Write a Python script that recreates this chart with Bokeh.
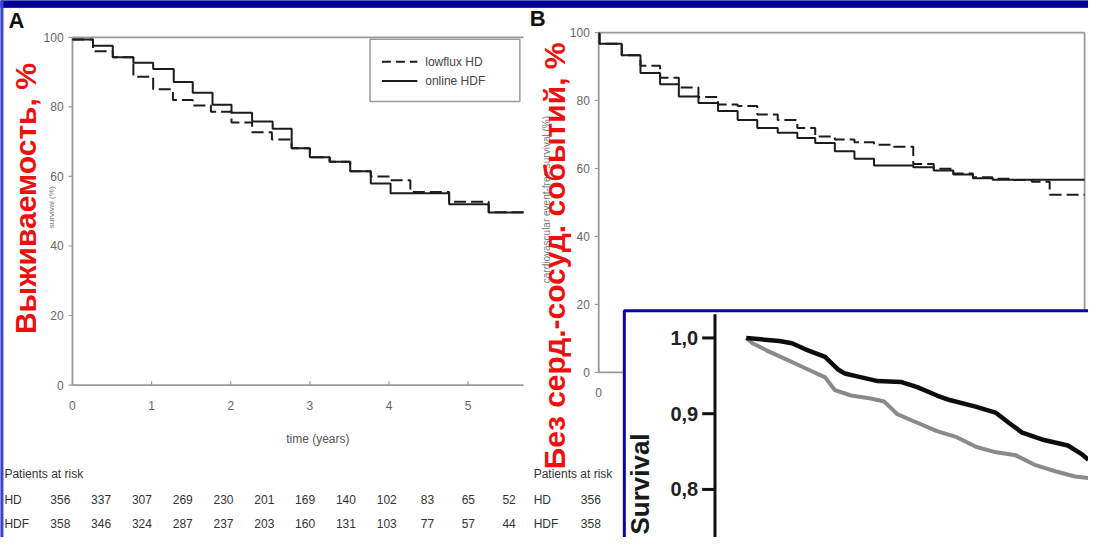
import numpy as np
from bokeh.plotting import figure
from bokeh.models import Range1d
from bokeh.core.properties import value
from bokeh.embed import file_html
from bokeh.resources import INLINE

# ---------------- data ----------------
# Panel A: survival (%) vs time (years)
a_hdf_t = [0, 0.26, 0.51, 0.77, 1.02, 1.28, 1.52, 1.77, 2.01, 2.27, 2.53, 2.77,
           3.0, 3.25, 3.51, 3.77, 4.02, 4.76, 5.26, 5.7]
a_hdf_s = [99.4, 97.6, 94.3, 92.7, 90.9, 87.2, 84.1, 80.6, 78.3, 75.8, 73.7, 68.1,
           65.5, 64.2, 61.5, 58.0, 55.2, 52.0, 49.6, 49.6]
a_hd_t = [0, 0.26, 0.51, 0.77, 1.02, 1.27, 1.52, 1.75, 2.01, 2.27, 2.52, 2.77,
          3.0, 3.25, 3.51, 3.77, 4.02, 4.27, 4.76, 5.26, 5.7]
a_hd_s = [99.4, 96.0, 94.3, 88.7, 85.1, 82.0, 80.4, 78.6, 75.5, 72.7, 70.6, 68.1,
          65.5, 64.2, 61.5, 60.0, 58.9, 55.5, 52.7, 49.7, 49.7]

# Panel B: cardiovascular event-free survival (%)
b_hdf_t = [0, 0.01, 0.27, 0.49, 0.72, 0.94, 1.17, 1.40, 1.63, 1.86, 2.10, 2.33,
           2.54, 2.77, 3.0, 3.23, 3.69, 3.93, 4.16, 4.39, 4.62, 5.7]
b_hdf_s = [99.7, 96.7, 93.3, 88.1, 84.8, 81.2, 79.3, 76.9, 74.3, 71.9, 70.5, 69.0,
           67.5, 65.1, 62.9, 60.9, 60.4, 59.4, 58.2, 57.1, 56.7, 56.7]
b_hd_t = [0, 0.01, 0.27, 0.49, 0.72, 0.94, 1.17, 1.40, 1.63, 1.86, 2.10, 2.33,
          2.54, 2.77, 3.0, 3.23, 3.46, 3.69, 3.93, 4.16, 4.39, 4.62, 4.85, 5.08, 5.29, 5.7]
b_hd_s = [99.7, 96.7, 93.3, 90.2, 86.7, 83.8, 81.0, 78.8, 78.4, 75.9, 74.3, 71.9,
          69.4, 68.5, 67.7, 67.0, 66.4, 61.3, 59.9, 58.5, 57.4, 57.0, 56.6, 56.1, 52.3, 52.3]

# Inset: survival (fraction)
i_black_t = [0, 0.42, 0.58, 0.75, 1.0, 1.17, 1.25, 1.42, 1.67, 1.96, 2.17, 2.42,
             2.58, 2.92, 3.17, 3.33, 3.5, 3.75, 4.08, 4.25, 4.34]
i_black_s = [1.0, 0.996, 0.993, 0.985, 0.975, 0.958, 0.953, 0.949, 0.943, 0.942, 0.935, 0.924,
             0.918, 0.909, 0.901, 0.888, 0.875, 0.866, 0.858, 0.847, 0.839]
i_gray_t = [0, 0.08, 0.25, 0.5, 0.75, 1.0, 1.125, 1.33, 1.58, 1.75, 1.92, 2.17,
            2.42, 2.67, 2.92, 3.17, 3.42, 3.67, 3.92, 4.17, 4.34]
i_gray_s = [1.0, 0.993, 0.984, 0.972, 0.960, 0.948, 0.931, 0.924, 0.920, 0.916, 0.899, 0.888,
            0.877, 0.869, 0.856, 0.849, 0.845, 0.832, 0.824, 0.817, 0.815]

pct_ticks = [0, 20, 40, 60, 80, 100]
year_ticks = [0, 1, 2, 3, 4, 5]
inset_ticks = [1.0, 0.9, 0.8]
inset_tick_labels = ["1,0", "0,9", "0,8"]
legend_labels = ["lowflux HD", "online HDF"]
risk_groups = ["HD", "HDF"]
risk_hd = [356, 337, 307, 269, 230, 201, 169, 140, 102, 83, 65, 52]
risk_hdf = [358, 346, 324, 287, 237, 203, 160, 131, 103, 77, 57, 44]
b_risk_hd = [356]
b_risk_hdf = [358]
T_MAX = 5.7

# ---------------- layout helpers (reference pixel space) ----------------
RW, RH = 1104, 553
W, H = 1088, 537


def xr(px0, v0, ppu):
    return Range1d(start=v0 - px0 / ppu, end=v0 + (RW - px0) / ppu)


def yr(py0, v0, ppu):
    return Range1d(start=v0 - (RH - py0) / ppu, end=v0 + py0 / ppu)


A_PX = (73.0, 80.3)      # x pixel of t=0, px per year
A_PY = (396.0, 3.58)     # y pixel of 0 %, px per %
B_PX = (607.0, 86.5)
B_PY = (383.0, 3.5)
I_PX = (756.7, 80.0)
I_PY = (347.5, 780.0)    # y pixel of 1.0, px per unit

p = figure(width=W, height=H, x_range=Range1d(0, RW), y_range=Range1d(RH, 0),
           output_backend="svg", toolbar_location=None, min_border=0,
           x_axis_location=None, y_axis_location=None,
           background_fill_color="white", border_fill_color="white")
p.grid.visible = False
p.outline_line_color = None
p.extra_x_ranges = {"A": xr(A_PX[0], 0, A_PX[1]), "B": xr(B_PX[0], 0, B_PX[1]),
                    "I": xr(I_PX[0], 0, I_PX[1])}
p.extra_y_ranges = {"A": yr(A_PY[0], 0, A_PY[1]), "B": yr(B_PY[0], 0, B_PY[1]),
                    "I": yr(I_PY[0], 1.0, I_PY[1])}

FONT = value("Liberation Sans")
AX = "#9a9a9a"
TICKC = "#666666"
CURVE = "#1c1c1c"

# frame decoration
p.quad(left=0, right=RW, top=0, bottom=7, color="#000099")
p.quad(left=0, right=2.5, top=0, bottom=RH, color="#3a44cc")


def km_panel(name, px, py, hd_t, hd_s, hdf_t, hdf_s, right_border):
    kw = dict(x_range_name=name, y_range_name=name)
    tx = 1.0 / px[1]
    ty = 1.0 / py[1]
    # frame lines
    p.segment(x0=[0, 0, 0], y0=[0, 0, 100], x1=[0, T_MAX, T_MAX], y1=[100, 0, 100],
              line_color=AX, line_width=1.8, **kw)
    if right_border:
        p.segment(x0=[T_MAX], y0=[0], x1=[T_MAX], y1=[100], line_color=AX, line_width=1.8, **kw)
    # y ticks
    p.segment(x0=[-4 * tx] * len(pct_ticks), y0=pct_ticks, x1=[0] * len(pct_ticks), y1=pct_ticks,
              line_color=AX, line_width=1.2, **kw)
    p.text(x=[-9 * tx] * len(pct_ticks), y=pct_ticks, text=[str(v) for v in pct_ticks],
           text_font=FONT, text_font_size="12px", text_color=TICKC,
           text_align="right", text_baseline="middle", **kw)
    # x ticks
    p.segment(x0=year_ticks, y0=[0] * 6, x1=year_ticks, y1=[4 * ty] * 6,
              line_color=AX, line_width=1.2, **kw)
    p.text(x=year_ticks, y=[-21 * ty] * 6, text=[str(v) for v in year_ticks],
           text_font=FONT, text_font_size="12px", text_color=TICKC,
           text_align="center", text_baseline="middle", **kw)
    # curves
    p.step(hd_t, hd_s, mode="after", line_color=CURVE, line_width=2, line_dash="12 5", **kw)
    p.step(hdf_t, hdf_s, mode="after", line_color=CURVE, line_width=2, **kw)


km_panel("A", A_PX, A_PY, a_hd_t, a_hd_s, a_hdf_t, a_hdf_s, False)
km_panel("B", B_PX, B_PY, b_hd_t, b_hd_s, b_hdf_t, b_hdf_s, True)

# legend of panel A
p.quad(left=375, right=527, top=40, bottom=104, fill_color="white",
       line_color="#9a9a9a", line_width=1.5)
p.segment(x0=[387], y0=[63], x1=[423], y1=[63], line_color=CURVE, line_width=2, line_dash="9 5")
p.segment(x0=[387], y0=[83], x1=[423], y1=[83], line_color=CURVE, line_width=2)
p.text(x=[431, 431], y=[63, 83], text=legend_labels, text_font=FONT, text_font_size="12px",
       text_color="#444444", text_align="left", text_baseline="middle")

# axis titles (small, grey)
p.text(x=[322], y=[452], text=["time (years)"], text_font=FONT, text_font_size="12px",
       text_color="#555555", text_align="center", text_baseline="middle")
p.text(x=[52], y=[213], text=["survival (%)"], text_font=FONT, text_font_size="8px",
       text_color="#777777", text_align="center", text_baseline="middle", angle=np.pi / 2)
p.text(x=[554], y=[205], text=["cardiovascular event-free survival (%)"], text_font=FONT,
       text_font_size="10px", text_color="#777777", text_align="center",
       text_baseline="middle", angle=np.pi / 2)

# panel letters
p.text(x=[8, 537], y=[21, 19], text=["A", "B"], text_font=FONT, text_font_size="22px",
       text_font_style="bold", text_color="#111111", text_align="left", text_baseline="middle")

# patients at risk tables
RISK_FONT = dict(text_font=FONT, text_font_size="12px", text_color="#333333", text_baseline="middle")
for lx, x0, dx, hd, hdf in [(4, 60.7, 41.4, risk_hd, risk_hdf), (541, 599.0, 42.0, b_risk_hd, b_risk_hdf)]:
    p.text(x=[lx], y=[488], text=["Patients at risk"], text_align="left", **RISK_FONT)
    p.text(x=[lx, lx], y=[514, 539], text=risk_groups, text_align="left", **RISK_FONT)
    xs = [x0 + i * dx for i in range(len(hd))]
    p.text(x=xs, y=[514] * len(hd), text=[str(v) for v in hd], text_align="center", **RISK_FONT)
    p.text(x=xs, y=[539] * len(hdf), text=[str(v) for v in hdf], text_align="center", **RISK_FONT)

# ---------------- inset ----------------
p.quad(left=633, right=1130, top=319.5, bottom=580, fill_color="white",
       line_color="#0a0a9a", line_width=3)
ik = dict(x_range_name="I", y_range_name="I")
ax_x = (725 - I_PX[0]) / I_PX[1]
tick_x0 = (712 - I_PX[0]) / I_PX[1]
lab_x = (708 - I_PX[0]) / I_PX[1]
p.segment(x0=[ax_x], y0=[1.0 + (I_PY[0] - 323) / I_PY[1]], x1=[ax_x], y1=[0.6],
          line_color="#111111", line_width=3, **ik)
p.segment(x0=[tick_x0] * 3, y0=inset_ticks, x1=[ax_x] * 3, y1=inset_ticks,
          line_color="#111111", line_width=3, **ik)
p.text(x=[lab_x] * 3, y=inset_ticks, text=inset_tick_labels, text_font=FONT,
       text_font_size="20px", text_font_style="bold", text_color="#222222",
       text_align="right", text_baseline="middle", **ik)
p.line(i_gray_t, i_gray_s, line_color="#8a8a8a", line_width=4, **ik)
p.line(i_black_t, i_black_s, line_color="#0d0d0d", line_width=4.5, **ik)
p.text(x=[649], y=[550], text=["Survival"], text_font=FONT, text_font_size="26px",
       text_font_style="bold", text_color="#1a1a1a", text_align="left",
       text_baseline="middle", angle=np.pi / 2)

# ---------------- red Russian labels ----------------
p.text(x=[25, 562], y=[204, 263], text=["Выживаемость, %", "Без серд.-сосуд. событий, %"],
       text_font=FONT, text_font_size="30px", text_font_style="bold", text_color="#ee0f0f",
       text_align="center", text_baseline="middle", angle=np.pi / 2)

open("out.html", "w").write(file_html(p, INLINE))
